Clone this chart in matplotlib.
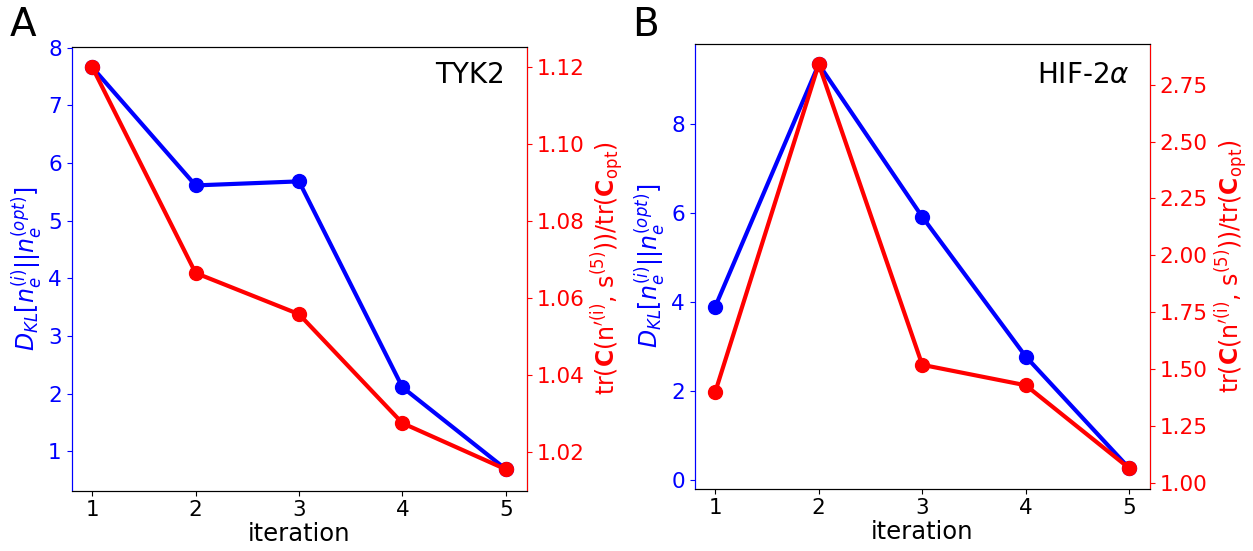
import matplotlib
matplotlib.use("Agg")
import matplotlib.pyplot as plt

iterations = [1, 2, 3, 4, 5]
tyk2_dkl = [7.66, 5.61, 5.68, 2.11, 0.69]
tyk2_trace = [1.1200, 1.0665, 1.0558, 1.0275, 1.0155]
hif_dkl = [3.90, 9.35, 5.92, 2.78, 0.27]
hif_trace = [1.398, 2.84, 1.518, 1.428, 1.063]
titles = ["TYK2", r"HIF-2$\alpha$"]
letters = ["A", "B"]

dkl_label = r"$D_{KL}[n_e^{(i)}||n_e^{(opt)}]$"
tr_label = r"tr($\mathbf{C}$(n$^{\prime\mathrm{(i)}}$, s$^{(5)}$))/tr($\mathbf{C}_{\mathrm{opt}}$)"

fig = plt.figure(figsize=(12.53, 5.51), dpi=100)
positions = [
    [71.5 / 1253, 1 - 490.5 / 551, (526.5 - 71.5) / 1253, (490.5 - 47) / 551],
    [694.5 / 1253, 1 - 488.5 / 551, (1150 - 694.5) / 1253, (488.5 - 44) / 551],
]
data = [(tyk2_dkl, tyk2_trace), (hif_dkl, hif_trace)]
title_pos = [(0.953, 0.937), (0.956, 0.93)]

for k in range(2):
    ax = fig.add_axes(positions[k])
    dkl, tr = data[k]
    ax.plot(iterations, dkl, color="blue", lw=3, marker="o", ms=10)
    if k == 0:
        ax.set_ylim(0.32, 8.01)
    ax.set_xlabel("iteration", fontsize=17.5, labelpad=1)
    ax.set_ylabel(dkl_label, fontsize=17, color="blue", labelpad=2)
    ax.tick_params(axis="y", colors="blue", labelsize=15.5)
    ax.tick_params(axis="x", labelsize=15.5)
    ax.set_xticks(iterations)
    ax.spines["left"].set_color("blue")
    ax2 = ax.twinx()
    ax2.plot(iterations, tr, color="red", lw=3, marker="o", ms=10)
    if k == 0:
        ax2.set_ylim(1.010, 1.1252)
    ax2.set_ylabel(tr_label, fontsize=17, color="red", labelpad=4)
    ax2.tick_params(axis="y", colors="red", labelsize=15.5)
    ax2.spines["right"].set_color("red")
    ax2.spines["left"].set_color("blue")
    ax.text(title_pos[k][0], title_pos[k][1], titles[k], transform=ax.transAxes,
            ha="right", va="center", fontsize=20)
    fig.text(positions[k][0] - 62 / 1253, 0.955, letters[k], fontsize=28, ha="left", va="center")

fig.savefig("out.png", dpi=100)
